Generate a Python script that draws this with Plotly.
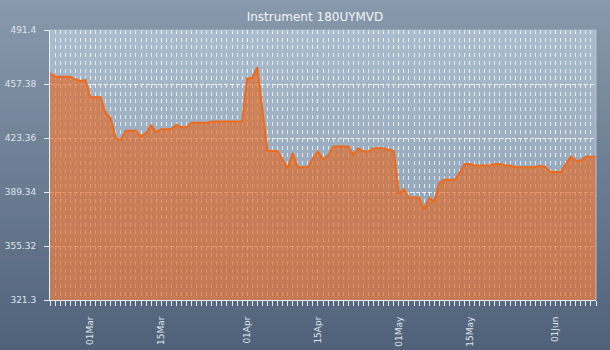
import plotly.graph_objects as go
import pandas as pd

# ---- data ----
start_date = "2021-02-21"
values = [
    464.1, 462.0, 462.0, 462.0, 462.0, 460.4, 459.1, 459.9, 449.0, 449.0,
    449.0, 439.3, 435.8, 423.2, 422.1, 428.0, 428.0, 428.0, 424.2, 426.4,
    431.2, 427.2, 428.9, 428.9, 428.9, 431.6, 430.1, 430.1, 433.0, 433.0,
    433.0, 433.0, 433.7, 433.7, 433.7, 433.7, 433.7, 433.7, 433.7, 461.0,
    461.0, 467.9, 441.5, 415.2, 415.2, 415.2, 409.6, 404.3, 413.8, 405.0,
    405.0, 405.0, 410.6, 414.8, 410.0, 412.1, 418.0, 418.0, 418.0, 418.0,
    412.7, 416.9, 414.8, 414.8, 416.9, 416.9, 416.9, 415.9, 415.2, 388.1,
    391.1, 385.8, 385.8, 385.8, 378.1, 385.4, 383.3, 394.9, 397.0, 397.0,
    397.0, 401.2, 407.0, 407.0, 406.0, 406.0, 406.0, 406.0, 407.0, 407.0,
    406.0, 406.0, 405.0, 405.0, 405.0, 405.0, 405.0, 405.8, 405.0, 402.0,
    402.0, 402.0, 406.8, 411.6, 409.1, 409.1, 411.6, 411.6, 411.6,
]
dates = pd.date_range(start_date, periods=len(values), freq="D")

x_tick_dates = ["2021-03-01", "2021-03-15", "2021-04-01", "2021-04-15",
                "2021-05-01", "2021-05-15", "2021-06-01"]
x_tick_labels = ["01Mar", "15Mar", "01Apr", "15Apr", "01May", "15May", "01Jun"]
y_tick_vals = [321.3, 355.32, 389.34, 423.36, 457.38, 491.4]
y_tick_labels = ["321.3", "355.32", "389.34", "423.36", "457.38", "491.4"]
title_text = "Instrument 180UYMVD"

# ---- layout geometry ----
W, H = 610, 350
ML, MR, MT, MB = 50, 14, 30, 50
pw, ph = W - ML - MR, H - MT - MB


def px_to_paper_x(px):
    return (px - ML) / pw


def px_to_paper_y(py):
    return (H - MB - py) / ph


def lerp(c1, c2, t):
    return tuple(round(a + (b - a) * t) for a, b in zip(c1, c2))


shapes = []
# page gradient
top_c, bot_c = (136, 153, 173), (80, 98, 121)
n = 70
for i in range(n):
    y0 = H * i / n
    y1 = H * (i + 1) / n + 0.6
    c = lerp(top_c, bot_c, i / (n - 1))
    shapes.append(dict(type="rect", xref="paper", yref="paper",
                       x0=px_to_paper_x(-2), x1=px_to_paper_x(W + 2),
                       y0=px_to_paper_y(y1), y1=px_to_paper_y(y0),
                       fillcolor="rgb(%d,%d,%d)" % c, line=dict(width=0),
                       layer="below"))
# plot-area gradient
ptop, pbot = (170, 188, 205), (138, 156, 176)
m = 50
for i in range(m):
    t0 = i / m
    t1 = (i + 1) / m
    c = lerp(ptop, pbot, i / (m - 1))
    shapes.append(dict(type="rect", xref="paper", yref="paper",
                       x0=0, x1=1, y0=1 - min(1, t1 + 0.003), y1=1 - t0,
                       fillcolor="rgb(%d,%d,%d)" % c, line=dict(width=0),
                       layer="below"))
# right / top border
shapes.append(dict(type="line", xref="paper", yref="paper", x0=1, x1=1, y0=0, y1=1,
                   line=dict(color="rgba(190,200,212,0.9)", width=1), layer="above"))
shapes.append(dict(type="line", xref="paper", yref="paper", x0=0, x1=1, y0=1, y1=1,
                   line=dict(color="rgba(190,200,212,0.7)", width=1), layer="above"))

fig = go.Figure()
fig.add_trace(go.Scatter(
    x=dates, y=values, mode="lines",
    line=dict(color="#ee6a1c", width=2),
    fill="tozeroy", fillcolor="rgba(226,104,36,0.66)",
    hoverinfo="skip",
))

grid_c = "rgba(255,255,255,0.72)"
tick_font = dict(family="DejaVu Sans", size=9, color="#dfe4ea")

fig.update_layout(
    width=W, height=H,
    margin=dict(l=ML, r=MR, t=MT, b=MB, pad=0, autoexpand=False),
    paper_bgcolor="rgb(110,127,148)",
    plot_bgcolor="rgba(0,0,0,0)",
    showlegend=False,
    shapes=shapes,
    title=dict(text=title_text, x=315 / W, xref="container", xanchor="center",
               y=1 - 17 / H, yref="container", yanchor="middle",
               font=dict(family="DejaVu Sans", size=12, color="#f2f4f6")),
    xaxis=dict(
        type="date", automargin=False,
        range=[dates[0], dates[-1]],
        tickvals=x_tick_dates, ticktext=x_tick_labels,
        tickangle=-90, tickfont=tick_font,
        ticks="outside", ticklen=5, tickcolor="#e8ecf0", tickwidth=1,
        showline=True, linecolor="#eef1f4", linewidth=1,
        showgrid=True, gridcolor=grid_c, griddash="4px,3.7px", gridwidth=1,
        ticklabelstandoff=7,
        zeroline=False,
        minor=dict(dtick=86400000, tick0=start_date, ticks="outside", ticklen=5,
                   tickcolor="#e8ecf0", tickwidth=1, showgrid=True,
                   gridcolor=grid_c, griddash="4px,3.7px", gridwidth=1),
    ),
    yaxis=dict(
        automargin=False,
        range=[y_tick_vals[0], y_tick_vals[-1]],
        tickvals=y_tick_vals, ticktext=y_tick_labels,
        tickfont=tick_font,
        ticks="outside", ticklen=5, tickcolor="#e8ecf0", tickwidth=1,
        showline=True, linecolor="#eef1f4", linewidth=1,
        showgrid=True, gridcolor="rgba(255,255,255,0.8)", griddash="4px,2px",
        gridwidth=1, zeroline=False, ticklabelstandoff=6,
    ),
)

fig.write_html("out.html")
